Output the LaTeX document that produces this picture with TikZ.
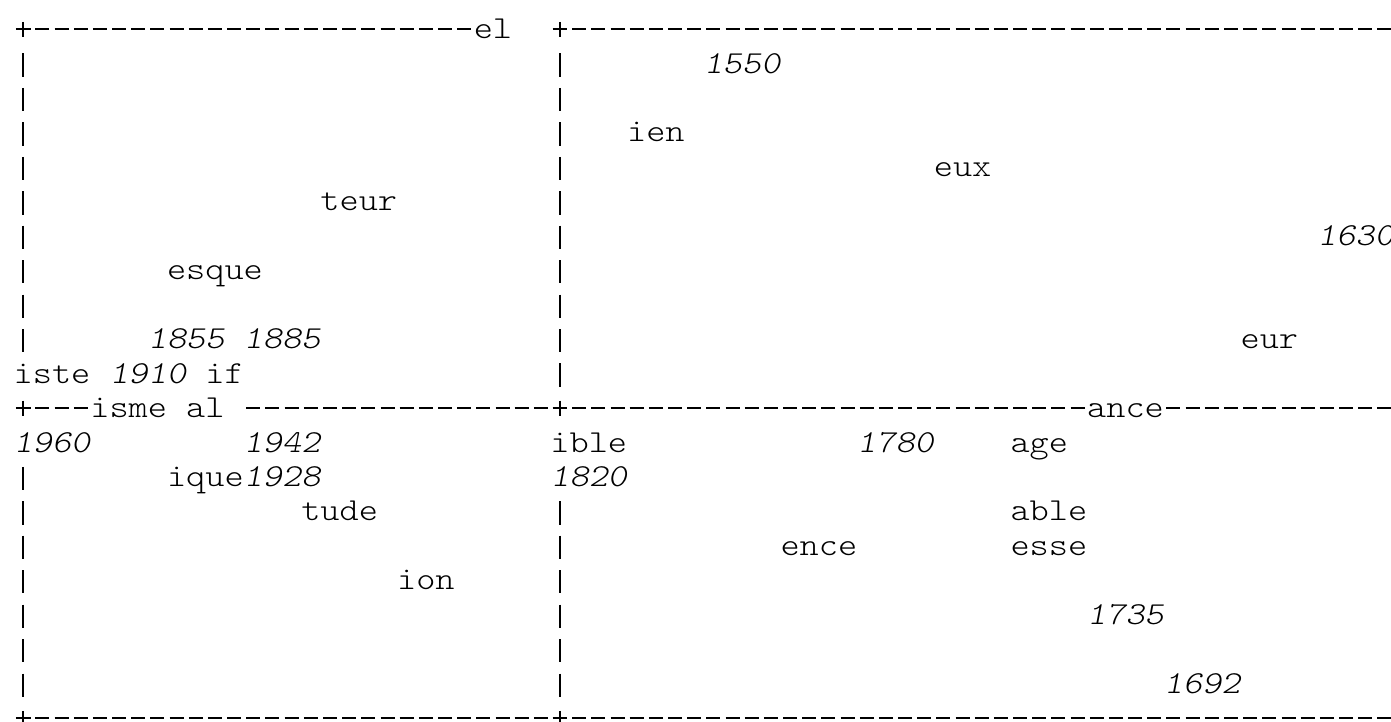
\documentclass[tikz,border=0pt]{standalone}
\usepackage{graphicx}
\newcommand\sx[1]{\scalebox{1.1411}[1]{#1}}
\tikzset{
  word/.style={anchor=base west, inner sep=0pt, outer sep=0pt,
    font=\fontsize{32}{34}\ttfamily\fontseries{l}\selectfont},
  year/.style={word, font=\fontsize{32}{34}\ttfamily\fontseries{l}\fontshape{sl}\selectfont},
  hd/.style={line width=2.2pt, dash pattern=on 14pt off 5.17pt},
  vbar/.style={line width=1.7pt, dash pattern=on 23.3pt off 11.15pt},
  ph/.style={line width=2.2pt},
  pv/.style={line width=1.7pt}
}
\begin{document}
\begin{tikzpicture}[x=19.17pt, y=-34.45pt]
\useasboundingbox (-1.2147,-0.8505) rectangle (71.347,20.0784);
% frame coordinates
\coordinate (a0) at (0.6348,0);   \coordinate (b0) at (23.3652,0);
\coordinate (c0) at (28.6348,0);  \coordinate (d0) at (71.3652,0);
\coordinate (a11) at (0.6348,11); \coordinate (b11) at (3.3652,11);
\coordinate (c11) at (11.6348,11);\coordinate (d11) at (27.3652,11);
\coordinate (e11) at (28.6348,11);\coordinate (f11) at (55.3652,11);
\coordinate (g11) at (59.6348,11);\coordinate (h11) at (71.3652,11);
\coordinate (a20) at (0.6348,20); \coordinate (b20) at (27.3652,20);
\coordinate (c20) at (28.6348,20);\coordinate (d20) at (71.3652,20);
\coordinate (l1) at (0,0.6995);   \coordinate (l2) at (0,9.3759);
\coordinate (l3) at (0,12.6995);  \coordinate (l4) at (0,19.3759);
\coordinate (m1) at (28,0.6995);  \coordinate (m2) at (28,10.3759);
\coordinate (m3) at (28,13.6995); \coordinate (m4) at (28,19.3759);
% horizontal dash runs
\draw[hd] (a0) -- (b0);  \draw[hd] (c0) -- (d0);
\draw[hd] (a11) -- (b11); \draw[hd] (c11) -- (d11);
\draw[hd] (e11) -- (f11); \draw[hd] (g11) -- (h11);
\draw[hd] (a20) -- (b20); \draw[hd] (c20) -- (d20);
% vertical bars
\draw[vbar] (l1) -- (l2); \draw[vbar] (l3) -- (l4);
\draw[vbar] (m1) -- (m2); \draw[vbar] (m3) -- (m4);
% plus signs
\foreach \px/\py in {0/0, 28/0, 0/11, 28/11, 0/20, 28/20} {
  \draw[ph] (\px-0.383,\py) -- (\px+0.383,\py);
  \draw[pv] (\px,\py-0.218) -- (\px,\py+0.218);
}
% words
\node[word] (el)    at (23.5,0.27)  {\sx{el}};
\node[year] (y1550) at (35.5,1.27)  {\sx{1550}};
\node[word] (ien)   at (31.5,3.27)  {\sx{ien}};
\node[word] (eux)   at (47.5,4.27)  {\sx{eux}};
\node[word] (teur)  at (15.5,5.27)  {\sx{teur}};
\node[year] (y1630) at (67.5,6.27)  {\sx{1630}};
\node[word] (esque) at (7.5,7.27)   {\sx{esque}};
\node[year] (y1855) at (6.5,9.27)   {\sx{1855}};
\node[year] (y1885) at (11.5,9.27)  {\sx{1885}};
\node[word] (eur)   at (63.5,9.27)  {\sx{eur}};
\node[word] (iste)  at (-0.5,10.27) {\sx{iste}};
\node[year] (y1910) at (4.5,10.27)  {\sx{1910}};
\node[word] (if)    at (9.5,10.27)  {\sx{if}};
\node[word] (isme)  at (3.5,11.27)  {\sx{isme}};
\node[word] (al)    at (8.5,11.27)  {\sx{al}};
\node[word] (ance)  at (55.5,11.27) {\sx{ance}};
\node[year] (y1960) at (-0.5,12.27) {\sx{1960}};
\node[year] (y1942) at (11.5,12.27) {\sx{1942}};
\node[word] (ible)  at (27.5,12.27) {\sx{ible}};
\node[year] (y1780) at (43.5,12.27) {\sx{1780}};
\node[word] (age)   at (51.5,12.27) {\sx{age}};
\node[word] (ique)  at (7.5,13.27)  {\sx{ique}};
\node[year] (y1928) at (11.5,13.27) {\sx{1928}};
\node[year] (y1820) at (27.5,13.27) {\sx{1820}};
\node[word] (tude)  at (14.5,14.27) {\sx{tude}};
\node[word] (able)  at (51.5,14.27) {\sx{able}};
\node[word] (ence)  at (39.5,15.27) {\sx{ence}};
\node[word] (esse)  at (51.5,15.27) {\sx{esse}};
\node[word] (ion)   at (19.5,16.27) {\sx{ion}};
\node[year] (y1735) at (55.5,17.27) {\sx{1735}};
\node[year] (y1692) at (59.5,19.27) {\sx{1692}};
\end{tikzpicture}
\end{document}
